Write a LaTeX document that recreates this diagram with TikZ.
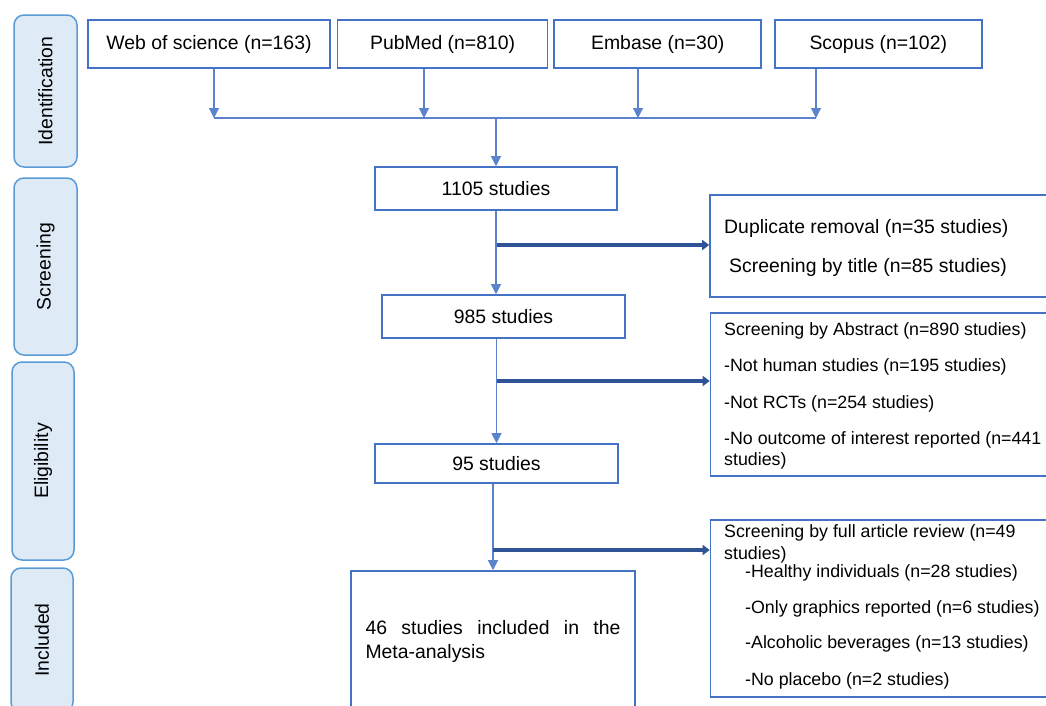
\documentclass[tikz,border=0pt]{standalone}
\usepackage{fontspec}
\setmainfont{Liberation Sans}
\usetikzlibrary{arrows.meta, positioning}
\definecolor{boxblue}{RGB}{68,114,196}
\definecolor{lineblue}{RGB}{91,130,205}
\definecolor{darkarrow}{RGB}{47,84,150}
\definecolor{phasefill}{RGB}{222,235,247}
\definecolor{phaseline}{RGB}{91,155,213}

\begin{document}
\begin{tikzpicture}[x=1pt, y=-1pt,
  every node/.style={font=\fontsize{19.4}{24}\selectfont},
  phase/.style={rectangle, rounded corners=10pt, draw=phaseline, fill=phasefill,
                line width=1.5pt, rotate=90, inner sep=0pt},
  srcbox/.style={rectangle, draw=boxblue, line width=1.6pt, minimum height=48pt, inner sep=0pt},
  stepbox/.style={rectangle, draw=boxblue, line width=1.6pt, inner sep=0pt},
  notebox/.style={rectangle, draw=boxblue, line width=1.6pt, minimum width=350pt, inner sep=0pt},
  note/.style={anchor=west, inner sep=0pt},
  smallnote/.style={note, font=\fontsize{17.8}{21}\selectfont},
  arrow/.style={-{Triangle[length=10pt, width=10pt]}, lineblue, line width=1.1pt},
  bigarrow/.style={-{Triangle[length=7pt, width=10pt]}, darkarrow, line width=3.5pt}
]
\useasboundingbox (0,0) rectangle (1046,705);
\clip (0,0) rectangle (1046,705);

% phases on the left
\node[phase, minimum width=152pt, minimum height=63pt] (ident) at (45.5,91) {Identification};
\node[phase, minimum width=177pt, minimum height=63pt] (screen) at (45.5,266.5) {Screening};
\node[phase, minimum width=198pt, minimum height=62pt] (elig) at (43,461) {Eligibility};
\node[phase, minimum width=144pt, minimum height=62pt] (incl) at (42,640) {Included};

% databases
\node[srcbox, minimum width=242pt] (wos) at (209,44) {Web of science (n=163)};
\node[srcbox, minimum width=210pt, right=6pt of wos] (pubmed) {PubMed (n=810)};
\node[srcbox, minimum width=207pt, right=5pt of pubmed] (embase) {Embase (n=30)};
\node[srcbox, minimum width=207pt, right=12pt of embase] (scopus) {Scopus (n=102)};

\coordinate (m1) at (214,118);
\coordinate (m2) at (424,118);
\coordinate (m3) at (638,118);
\coordinate (m4) at (816,118);
\foreach \s/\m in {wos/m1, pubmed/m2, embase/m3, scopus/m4}
  \draw[arrow] (\m |- \s.south) -- (\m);
\draw[lineblue, line width=1.1pt] (m1) -- (m4);

% main column
\node[stepbox, minimum width=242pt, minimum height=43pt] (s1105) at (496,188.5) {1105 studies};
\node[stepbox, minimum width=243pt, minimum height=43pt] (s985) at (503.5,316.5) {985 studies};
\node[stepbox, minimum width=243pt, minimum height=39pt] (s95) at (496.5,463.5) {95 studies};
\node[stepbox, minimum width=284pt, minimum height=141pt, text width=255pt, align=left] (s46) at (493,641.5)
  {\hbox to 255pt{46\hfill studies\hfill included\hfill in\hfill the}\\Meta-analysis};

\draw[arrow] (s1105.north |- m1) -- (s1105.north);
\draw[arrow] (s1105.south) -- (s1105.south |- s985.north);
\draw[arrow] (s95.north |- s985.south) -- (s95.north);
\draw[arrow] (s46.north |- s95.south) -- (s46.north);

% excluded records
\node[notebox, minimum height=102pt] (dup) at (885,246) {};
\node[notebox, minimum height=163pt] (abs) at (885.5,394.5) {};
\node[notebox, minimum height=177pt] (full) at (885.5,608.5) {};

\node[note] (d1) at (724,228) {Duplicate removal (n=35 studies)};
\node[note] (d2) at (729,267) {Screening by title (n=85 studies)};

\node[smallnote] (a1) at (724,331) {Screening by Abstract (n=890 studies)};
\node[smallnote] (a2) at (724,367) {-Not human studies (n=195 studies)};
\node[smallnote] (a3) at (724,404) {-Not RCTs (n=254 studies)};
\node[smallnote] (a4) at (724,440) {-No outcome of interest reported (n=441};
\node[smallnote] (a5) at (724,461) {studies)};

\node[smallnote] (f1) at (724,533) {Screening by full article review (n=49};
\node[smallnote] (f2) at (724,555) {studies)};
\node[smallnote] (f3) at (745,573) {-Healthy individuals (n=28 studies)};
\node[smallnote] (f4) at (745,609) {-Only graphics reported (n=6 studies)};
\node[smallnote] (f5) at (745,644) {-Alcoholic beverages (n=13 studies)};
\node[smallnote] (f6) at (745,681) {-No placebo (n=2 studies)};

\coordinate (b1) at (497,245);
\coordinate (b2) at (497,381);
\coordinate (b3) at (493,550);
\draw[bigarrow] (b1) -- (b1 -| dup.west);
\draw[bigarrow] (b2) -- (b2 -| abs.west);
\draw[bigarrow] (b3) -- (b3 -| full.west);
\end{tikzpicture}
\end{document}
